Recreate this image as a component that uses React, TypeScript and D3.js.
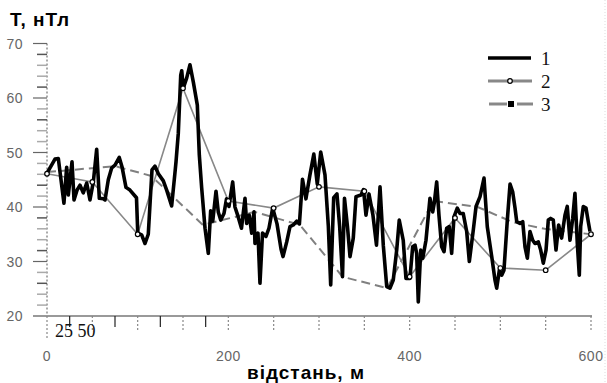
import * as d3 from 'd3';

// series 1: measured field along the profile
const dist1 = [
  0, 8.8, 12.5, 18.7, 21.7, 23.5, 27.6, 29.8, 33.1, 36.4, 40.0, 43.8, 47.4, 51.1, 54.8, 57.7, 62.1, 64.0,
  67.6, 71.4, 75.0, 79.7, 82.7, 87.1, 91.5, 98.7, 100.1, 104.4, 108.1, 111.7, 115.8, 119.1, 122.8, 128.3,
  132.0, 137.5, 141.2, 142.3, 144.8, 147.5, 148.6, 150.3, 154.1, 157.7, 161.4, 165.8, 168.0, 170.6, 174.3,
  177.9, 180.5, 182.8, 186.4, 188.9, 191.6, 195.2, 198.0, 200.7, 204.8, 207.3, 209.9, 214.5, 218.4, 220.2,
  223.1, 225.8, 228.3, 229.4, 232.7, 234.9, 237.7, 241.5, 244.8, 248.9, 253.7, 258.1, 260.3, 264.4, 268.0,
  271.6, 275.4, 278.4, 281.8, 285.6, 290.0, 294.3, 298.1, 301.9, 306.6, 310.3, 312.9, 316.2, 319.8, 322.8,
  325.9, 328.1, 331.4, 334.2, 337.8, 340.8, 346.3, 349.1, 351.8, 355.1, 359.5, 363.4, 367.3, 370.9, 374.7,
  378.3, 381.9, 385.7, 388.5, 392.9, 395.9, 400.3, 403.3, 405.9, 407.7, 409.5, 412.2, 414.4, 418.0, 422.4,
  425.4, 427.1, 429.8, 432.3, 435.3, 437.9, 440.8, 443.7, 446.3, 448.9, 452.5, 455.5, 459.1, 462.9, 465.8,
  470.2, 473.2, 477.6, 482.0, 485.6, 490.5, 494.1, 496.0, 498.9, 501.5, 504.0, 507.7, 510.7, 513.6, 516.2,
  518.1, 521.7, 524.7, 527.2, 529.8, 532.7, 535.7, 538.2, 541.9, 544.5, 547.4, 550.4, 552.9, 555.5, 558.4,
  561.4, 564.3, 567.6, 571.3, 573.8, 576.8, 579.8, 582.3, 584.9, 587.1, 588.6, 591.5, 594.5, 597.0, 598.9,
];
const field1 = [
  46.2, 48.8, 48.9, 40.7, 47.3, 42.2, 48.3, 41.3, 43.1, 44.0, 42.6, 44.4, 41.3, 44.6, 50.6, 41.6, 41.5, 41.3,
  45.0, 47.2, 47.7, 49.1, 47.4, 43.6, 43.1, 41.7, 35.2, 34.9, 33.3, 35.0, 46.8, 47.5, 46.1, 44.8,
  43.1, 40.2, 46.4, 48.3, 53.5, 64.2, 65.0, 61.8, 63.7, 66.1, 62.9, 58.7, 49.5, 43.5, 36.1,
  31.5, 39.3, 37.4, 42.9, 39.1, 37.6, 38.8, 41.5, 40.1, 44.6, 40.0, 38.7, 36.1, 41.6, 37.0,
  38.5, 35.2, 39.1, 33.3, 35.2, 26.0, 35.2, 34.6, 36.1, 39.8, 36.9, 32.3, 30.9, 33.6, 36.4,
  36.7, 37.4, 36.9, 45.1, 41.5, 45.9, 49.7, 44.2, 50.1, 45.9, 36.5, 25.7, 41.7, 42.4, 36.4,
  27.2, 41.6, 36.4, 30.9, 34.3, 41.9, 42.2, 43.2, 38.5, 42.4, 38.5, 33.0, 43.7, 33.0, 25.4,
  25.1, 26.6, 32.1, 37.6, 33.9, 26.9, 26.9, 32.7, 33.0, 31.5, 22.6, 32.1, 30.6, 33.9, 41.6,
  39.1, 40.7, 44.6, 38.5, 32.7, 31.8, 36.1, 36.4, 31.5, 38.2, 39.8, 38.8, 38.8, 35.5, 30.0,
  35.8, 40.1, 41.9, 45.3, 36.4, 30.9, 26.6, 25.1, 28.4, 27.5, 28.4, 37.6, 44.2, 42.8, 39.8,
  37.3, 37.0, 37.3, 32.7, 30.6, 35.5, 33.9, 33.3, 33.6, 32.1, 29.7, 32.1, 37.6, 37.9, 37.6,
  32.1, 36.7, 34.3, 38.5, 40.1, 33.9, 37.9, 42.5, 33.3, 27.5, 36.4, 40.1, 39.8, 37.3, 35.5,
];

// series 2: every 50 m
const dist2 = [0, 50, 100, 150, 200, 250, 300, 350, 400, 450, 500, 550, 600];
const field2 = [46.1, 44.6, 35.0, 61.8, 41.1, 39.8, 43.7, 42.9, 27.2, 38.0, 28.8, 28.4, 35.0];

// series 3
const dist3 = [0, 75, 115, 172, 229, 279, 326, 375, 426, 475, 514, 549, 600];
const field3 = [46.4, 47.5, 45.7, 36.7, 39.1, 36.7, 27.2, 25.1, 41.1, 40.0, 37.2, 36.0, 35.0];

const xLabels = [0, 200, 400, 600];
const yLabels = [20, 30, 40, 50, 60, 70];
const legendLabels = ['1', '2', '3'];

const W = 607;
const H = 383;

export default function App() {
  const x = d3.scaleLinear().domain([0, 600]).range([47, 591]);
  const y = d3.scaleLinear().domain([20, 70]).range([316, 43.5]);

  const line = d3.line<[number, number]>()
    .x(d => x(d[0]))
    .y(d => y(d[1]));

  const s1 = dist1.map((d, i) => [d, field1[i]] as [number, number]);
  const s2 = dist2.map((d, i) => [d, field2[i]] as [number, number]);
  const s3 = dist3.map((d, i) => [d, field3[i]] as [number, number]);

  const xTicks = d3.range(0, 201, 25).concat(d3.range(250, 601, 50));
  const yTicks = d3.range(20, 71, 2);

  const sans = 'Arial, "Liberation Sans", sans-serif';
  const serif = '"Times New Roman", "Liberation Serif", serif';

  return (
    <svg width={W} height={H} style={{ position: 'fixed', left: 0, top: 0, background: '#fff' }}>
      <rect x={0} y={0} width={W} height={H} fill="#fff" />

      {/* y axis */}
      <line x1={47} x2={47} y1={y(70)} y2={y(20)} stroke="#555" strokeWidth={1} strokeDasharray="2,2" />
      {yTicks.map((t, i) => {
        const major = t % 10 === 0;
        return (
          <line key={t}
            x1={major ? 33 : 37} x2={47} y1={y(t)} y2={y(t)}
            stroke={major ? '#666' : i % 3 === 0 ? '#555' : '#aaa'}
            strokeWidth={major ? 1.2 : 1.5} />
        );
      })}
      {yLabels.map(t => (
        <text key={t} x={23} y={y(t) + 5} textAnchor="end" fontFamily={sans} fontSize={14} letterSpacing={0.5} fill="#666">{t}</text>
      ))}

      {/* x axis */}
      <line x1={33} x2={592} y1={y(20)} y2={y(20)} stroke="#999" strokeWidth={2} />
      {xTicks.map(t => {
        const solid = t < 200 && t % 50 !== 0;
        return (
          <line key={t} x1={x(t)} x2={x(t)} y1={y(20)} y2={t === 0 ? 340 : solid ? 327 : 330}
            stroke={solid ? '#222' : '#888'} strokeWidth={1.2}
            strokeDasharray={solid ? undefined : '2,2'} />
        );
      })}
      {xLabels.map(t => (
        <text key={t} x={x(t)} y={361} textAnchor="middle" fontFamily={sans} fontSize={14} letterSpacing={0.5} fill="#666">{t}</text>
      ))}
      <text x={55} y={337} fontFamily={serif} fontSize={18} fill="#111">25 50</text>

      {/* series 3 */}
      <path d={line(s3) ?? ''} fill="none" stroke="#808080" strokeWidth={2} strokeDasharray="9,5" />

      {/* series 2 */}
      <path d={line(s2) ?? ''} fill="none" stroke="#888" strokeWidth={1.6} />

      {/* series 1 */}
      <path d={line(s1) ?? ''} fill="none" stroke="#000" strokeWidth={3.6} strokeLinejoin="round" />

      {s2.map((d, i) => (
        <circle key={i} cx={x(d[0])} cy={y(d[1])} r={2.3} fill="#fff" stroke="#000" strokeWidth={1.2} />
      ))}

      {/* titles */}
      <text x={10} y={26} fontFamily={sans} fontWeight="bold" fontSize={19} letterSpacing={1} fill="#000">T, нТл</text>
      <text x={306} y={379} textAnchor="middle" fontFamily={sans} fontWeight="bold" fontSize={19} letterSpacing={1} fill="#000">відстань, м</text>

      {/* legend */}
      <g>
        <line x1={488} x2={531} y1={58} y2={58} stroke="#000" strokeWidth={3.5} />
        <line x1={488} x2={532} y1={81} y2={81} stroke="#888" strokeWidth={3} />
        <circle cx={510} cy={81} r={2.3} fill="#fff" stroke="#000" strokeWidth={1.2} />
        <line x1={489} x2={507} y1={104} y2={104} stroke="#888" strokeWidth={3} />
        <line x1={517} x2={533} y1={104} y2={104} stroke="#888" strokeWidth={3} />
        <rect x={508} y={101} width={6} height={6} fill="#000" />
        {legendLabels.map((l, i) => (
          <text key={l} x={541} y={65 + i * 23} fontFamily={serif} fontSize={19} fill="#111">{l}</text>
        ))}
      </g>

      <line x1={605} x2={605} y1={0} y2={H} stroke="#ddd" strokeDasharray="1,2" />
    </svg>
  );
}
